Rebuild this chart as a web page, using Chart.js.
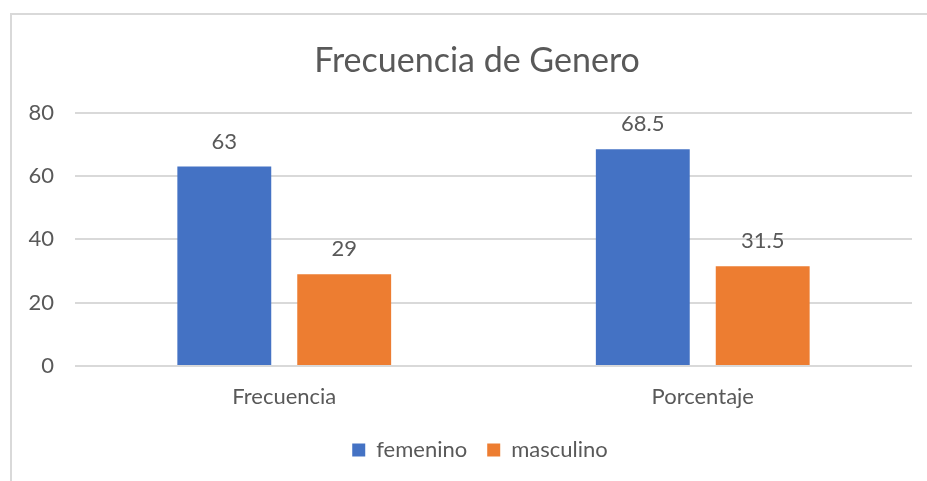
<!DOCTYPE html>
<html>
<head>
<meta charset="utf-8">
<script src="https://cdn.jsdelivr.net/npm/chart.js@4"></script>
<style>
  html, body { margin: 0; padding: 0; background: #fff; }
  #wrap { position: relative; width: 927px; height: 481px; }
</style>
</head>
<body>
<div id="wrap"><canvas id="myChart"></canvas></div>
<script>
var categories = ['Frecuencia', 'Porcentaje'];
var femenino = [63, 68.5];
var masculino = [29, 31.5];
var yTicks = [0, 20, 40, 60, 80];

var textColor = '#595959';
var fontFamily = 'Lato, "Open Sans", sans-serif';

// light grey frame like the pasted chart border
var framePlugin = {
    id: 'frame',
    beforeDraw: function (chart) {
        var c = chart.ctx;
        c.save();
        c.strokeStyle = '#d9d9d9';
        c.lineWidth = 2;
        c.beginPath();
        c.moveTo(11, 481);
        c.lineTo(11, 14);
        c.lineTo(927, 14);
        c.stroke();
        c.restore();
    }
};

// title and legend sit a bit right of the canvas centre in the original
var shiftPlugin = {
    id: 'shift',
    afterLayout: function (chart) {
        chart.titleBlock.left += 21;
        chart.titleBlock.right += 21;
        chart.legend.left += 24;
        chart.legend.right += 24;
    }
};

// value labels above each bar
var valueLabels = {
    id: 'valueLabels',
    afterDatasetsDraw: function (chart) {
        var c = chart.ctx;
        c.save();
        c.fillStyle = textColor;
        c.font = '22px ' + fontFamily;
        c.textAlign = 'center';
        c.textBaseline = 'middle';
        chart.data.datasets.forEach(function (ds, i) {
            chart.getDatasetMeta(i).data.forEach(function (bar, j) {
                c.fillText(String(ds.data[j]), bar.x, bar.y - 25);
            });
        });
        c.restore();
    }
};

var ctx = document.getElementById('myChart').getContext('2d');
var chart = new Chart(ctx, {
    type: 'bar',
    data: {
        labels: categories,
        datasets: [{
            label: 'femenino',
            backgroundColor: '#4472C4',
            data: femenino
        }, {
            label: 'masculino',
            backgroundColor: '#ED7D31',
            data: masculino
        }]
    },
    options: {
        responsive: true,
        maintainAspectRatio: false,
        animation: false,
        layout: { padding: { top: 41, right: 15, bottom: 10, left: 0 } },
        datasets: {
            bar: { categoryPercentage: 0.573, barPercentage: 0.783 }
        },
        scales: {
            x: {
                grid: { display: false, drawTicks: false },
                border: { display: false },
                ticks: { color: textColor, font: { family: fontFamily, size: 22 }, padding: 18 },
                afterFit: function (scale) { scale.height = 53; }
            },
            y: {
                min: 0,
                max: 80,
                afterBuildTicks: function (scale) {
                    scale.ticks = yTicks.map(function (v) { return { value: v }; });
                },
                grid: { color: '#d9d9d9', lineWidth: 2, drawTicks: false },
                border: { display: false },
                ticks: { color: textColor, font: { family: fontFamily, size: 22 }, padding: 21 },
                afterFit: function (scale) { scale.width = 75; }
            }
        },
        plugins: {
            title: {
                display: true,
                text: 'Frecuencia de Genero',
                color: textColor,
                font: { family: fontFamily, size: 34, weight: 'normal' },
                padding: { top: 0, bottom: 31 }
            },
            legend: {
                position: 'bottom',
                labels: {
                    color: textColor,
                    font: { family: fontFamily, size: 22 },
                    boxWidth: 13,
                    boxHeight: 13,
                    padding: 20
                }
            },
            tooltip: { enabled: false }
        }
    },
    plugins: [framePlugin, shiftPlugin, valueLabels]
});
</script>
</body>
</html>
